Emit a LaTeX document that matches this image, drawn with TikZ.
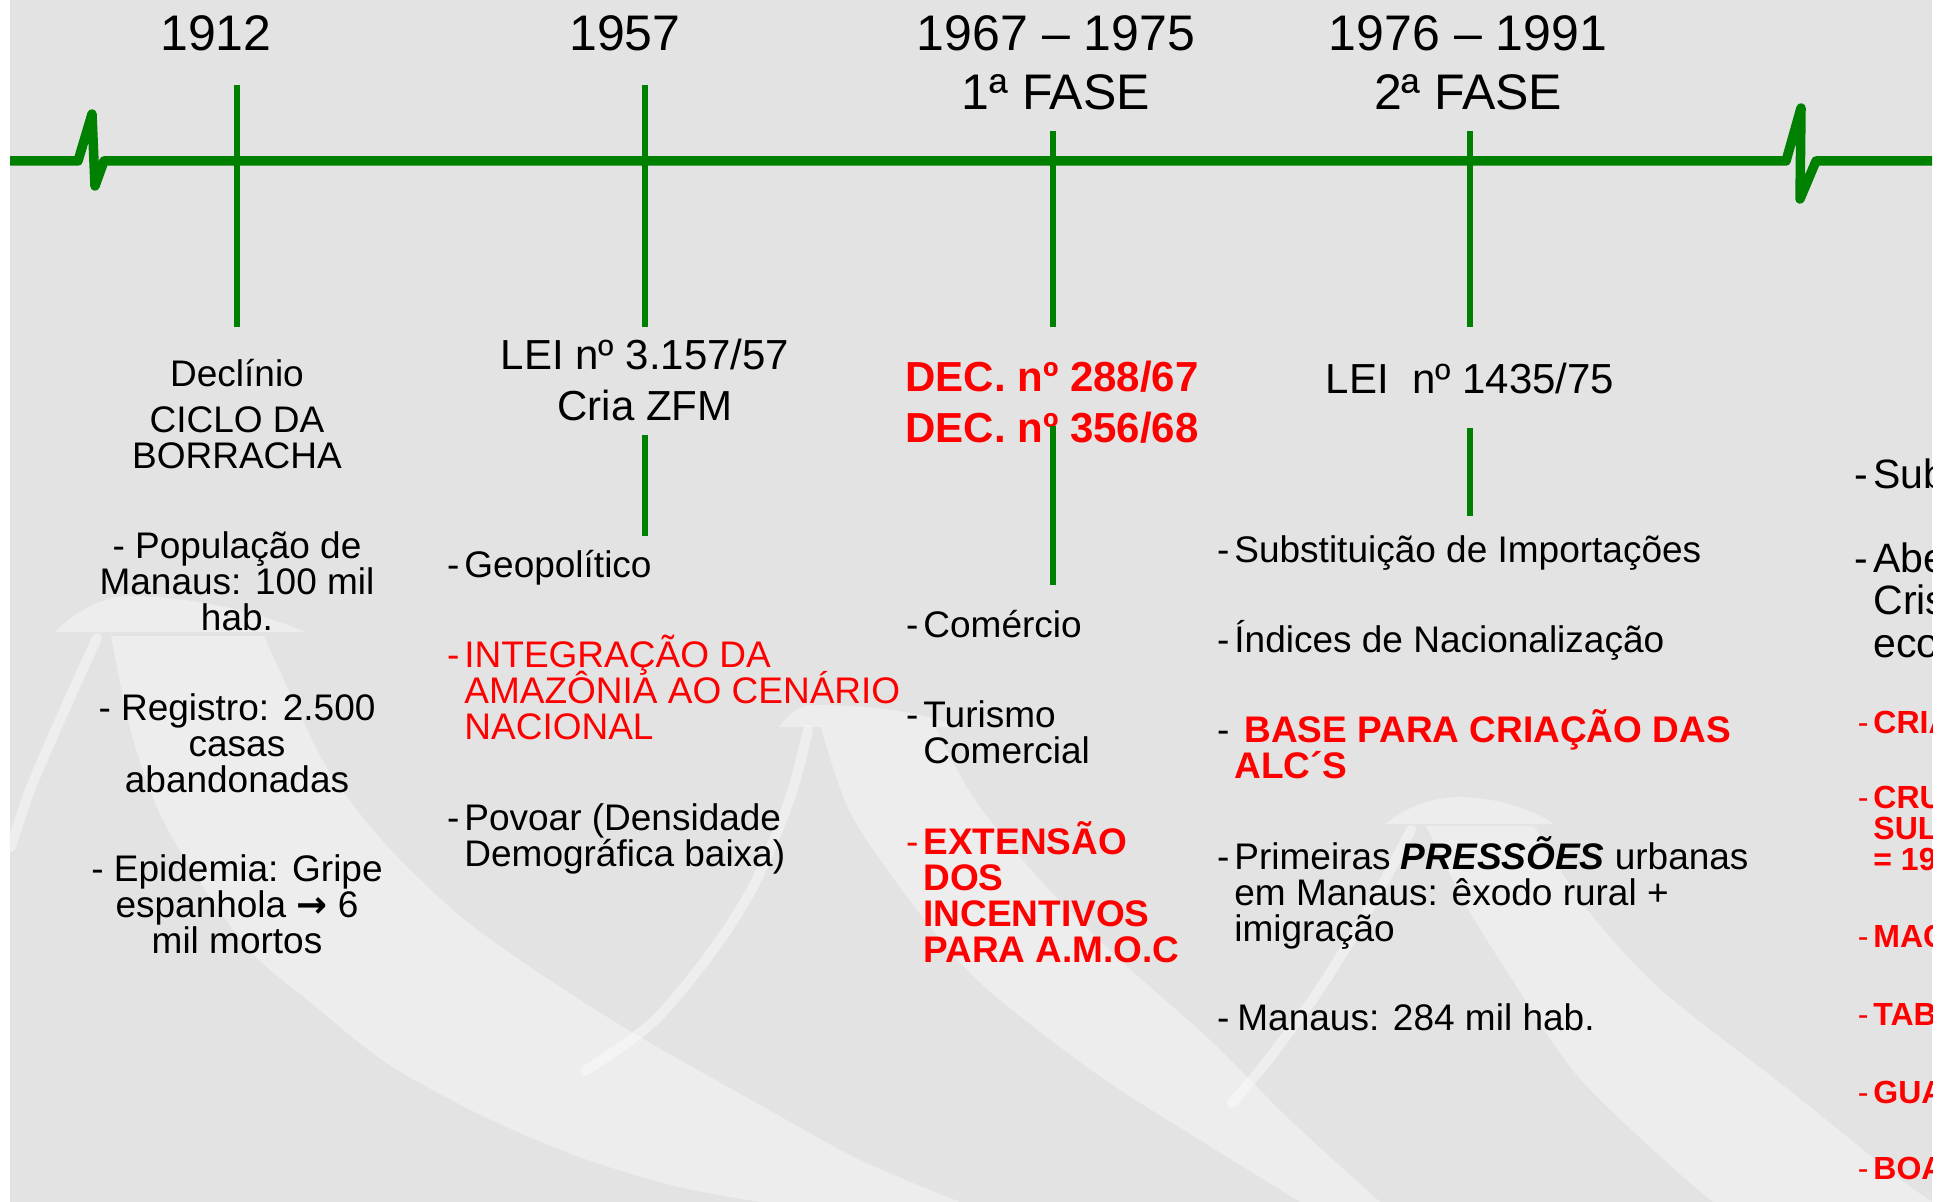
\documentclass[tikz,border=0pt]{standalone}
\usepackage{fontspec}
\setmainfont{Liberation Sans}
\newfontfamily\arrowfont{DejaVu Sans}
\definecolor{tlgreen}{RGB}{0,128,0}
\definecolor{tlred}{RGB}{255,0,0}
\definecolor{paper}{RGB}{227,227,227}
\newcommand\dsh{\llap{-\hspace{2.5pt}}}
\newcommand\dshm{\llap{\mdseries-\hspace{2.5pt}}}
\tikzset{
  hdr/.style={font=\fontsize{25}{29.5}\selectfont, align=center, anchor=base, inner sep=0pt},
  law/.style={font=\fontsize{21}{25.5}\selectfont, align=center, anchor=base, inner sep=0pt},
  lawred/.style={font=\bfseries\fontsize{21}{25.5}\selectfont, align=left, anchor=base west, inner sep=0pt, text=tlred},
  ctext/.style={font=\fontsize{18.5}{18}\selectfont, align=center, anchor=base, inner sep=0pt},
  ltext/.style={font=\fontsize{18.5}{18}\selectfont, align=left, anchor=base west, inner sep=0pt},
  lred/.style={ltext, text=tlred},
  lredb/.style={ltext, text=tlred, font=\bfseries\fontsize{18.5}{18}\selectfont},
  blk5/.style={font=\fontsize{20.5}{21.25}\selectfont, align=left, anchor=base west, inner sep=0pt},
  red5/.style={font=\bfseries\fontsize{16}{15.5}\selectfont, align=left, anchor=base west, inner sep=0pt, text=tlred},
  arrowfill/.style={fill=white, fill opacity=0.37},
  arrowline/.style={draw=white, draw opacity=0.4, line width=5pt, line cap=round},
  timeline/.style={draw=tlgreen, line width=4.75pt, line join=round},
  tick/.style={draw=tlgreen, line width=3pt}
}
\begin{document}
\lineskiplimit=-100pt\relax
\begin{tikzpicture}[x=0.5pt, y=-0.5pt]
\useasboundingbox (0,0) rectangle (1952,1202);
\fill[white] (0,0) rectangle (1952,1202);
\fill[paper] (10,0) rectangle (1932,1202);

\begin{scope}
\clip (10,0) rectangle (1932,1202);
% arrow A
\fill[arrowfill] (55,632) .. controls (75,612) and (100,598) .. (125,596) .. controls (190,596) and (260,612) .. (305,632) -- cycle;
\draw[arrowline] plot[smooth] coordinates {(97,638) (60,720) (30,790) (11,847)};
\fill[arrowfill] plot[smooth] coordinates {(111,636) (131,732) (160,814) (204,888) (252,953) (310,1002) (388,1064) (485,1117) (582,1158) (679,1187) (760,1202)}
  -- plot[smooth] coordinates {(960,1202) (860,1160) (760,1105) (630,1031) (533,969) (460,916) (388,847) (330,773) (291,695) (264,636)} -- cycle;
% arrow B
\fill[arrowfill] (779,727) .. controls (790,712) and (800,706) .. (812,705) .. controls (870,705) and (925,712) .. (958,727) -- cycle;
\draw[arrowline] plot[smooth] coordinates {(808,730) (790,798) (754,885) (710,954) (652,1023) (585,1071)};
\fill[arrowfill] plot[smooth] coordinates {(821,727) (852,816) (924,919) (986,988) (1098,1075) (1200,1140) (1300,1202)}
  -- plot[smooth] coordinates {(1380,1202) (1290,1120) (1210,1040) (1120,960) (1040,880) (975,800) (935,727)} -- cycle;
% arrow C
\fill[arrowfill] (1385,824) .. controls (1405,808) and (1430,798) .. (1457,797) .. controls (1495,797) and (1530,808) .. (1554,824) -- cycle;
\draw[arrowline] plot[smooth] coordinates {(1411,830) (1370,907) (1319,990) (1268,1060) (1232,1103)};
\fill[arrowfill] plot[smooth] coordinates {(1426,826) (1467,907) (1508,973) (1575,1073) (1661,1157) (1713,1202)}
  -- plot[smooth] coordinates {(1932,1202) (1892,1173) (1789,1090) (1661,990) (1585,907) (1534,826)} -- cycle;

% column 5 (cut at the right edge); multi-line nodes are anchored at their last line
\node[blk5] (c5sub) at (1873,489) {\dsh Sub};
\node[blk5] (c5abe) at (1873,657) {\dsh Abe\\Cris\\eco};
\node[red5] (c5cria) at (1873,733) {\dshm CRIA};
\node[red5] (c5cru) at (1873,870) {\dshm CRU\\SUL\\= 19};
\node[red5] (c5mac) at (1873,947) {\dshm MAC};
\node[red5] (c5tab) at (1873,1025) {\dshm TAB};
\node[red5] (c5gua) at (1873,1103) {\dshm GUA};
\node[red5] (c5boa) at (1873,1179) {\dshm BOA};
\end{scope}

% headers
\node[hdr] (y1912) at (216,51) {1912};
\node[hdr] (y1957) at (625,51) {1957};
\node[hdr] (y1967) at (1056,110) {1967 – 1975\\1ª FASE};
\node[hdr] (y1976) at (1468,110) {1976 – 1991\\2ª FASE};

% column 1
\node[ctext] (c1dec) at (237,387) {Declínio};
\node[ctext] (c1ciclo) at (237,469) {CICLO DA\\BORRACHA};
\node[ctext] (c1pop) at (237,631) {- População de\\Manaus: 100 mil\\hab.};
\node[ctext] (c1reg) at (237,792) {- Registro: 2.500\\casas\\abandonadas};
\node[ctext] (c1epi) at (237,953) {- Epidemia: Gripe\\espanhola {\arrowfont\bfseries →} 6\\mil mortos};

% column 2
\node[law] (lei57) at (645,421) {LEI nº 3.157/57\\Cria ZFM};
\node[ltext] (geo) at (464,578) {\dsh Geopolítico};
\node[lred] (integ) at (464,739) {\dsh INTEGRAÇÃO DA\\AMAZÔNIA AO CENÁRIO\\NACIONAL};
\node[ltext] (povoar) at (464,866) {\dsh Povoar (Densidade\\Demográfica baixa)};

% column 3
\node[lawred] (dec) at (905,443) {DEC. nº 288/67\\DEC. nº 356/68};
\node[ltext] (comercio) at (923,637) {\dsh Comércio};
\node[ltext] (turismo) at (923,763) {\dsh Turismo\\Comercial};
\node[lredb] (ext) at (923,962) {\dshm EXTENSÃO\\DOS\\INCENTIVOS\\PARA A.M.O.C};

% column 4
\node[law] (lei75) at (1470,394) {LEI\ \ nº 1435/75};
\node[ltext] (subst) at (1234,563) {\dsh Substituição de Importações};
\node[ltext] (indices) at (1234,652) {\dsh Índices de Nacionalização};
\node[lredb] (base) at (1234,778) {\llap{\color{black}\mdseries-\hspace{2.5pt}}\hspace{5pt}BASE PARA CRIAÇÃO DAS\\ALC´S};
\node[ltext] (press) at (1234,941) {\dsh Primeiras \textbf{\textit{PRESSÕES}} urbanas\\em Manaus: êxodo rural +\\imigração};
\node[ltext] (manaus) at (1237,1030) {\llap{-\hspace{4pt}}Manaus: 284 mil hab.};

% timeline
\coordinate (tlL) at (10,161);
\coordinate (tlR) at (1932,161);
\draw[timeline] (tlL) -- (78,161) -- (92,114) -- (95,186) -- (104,161) -- (1786,161) -- (1801,108) -- (1800,199) -- (1816,161) -- (tlR);

% ticks
\coordinate (t1a) at (237,85);  \coordinate (t1b) at (237,327);
\coordinate (t2a) at (645,85);  \coordinate (t2b) at (645,327);
\coordinate (t2c) at (645,435); \coordinate (t2d) at (645,536);
\coordinate (t3a) at (1053,131); \coordinate (t3b) at (1053,327);
\coordinate (t3c) at (1053,426); \coordinate (t3d) at (1053,585);
\coordinate (t4a) at (1470,131); \coordinate (t4b) at (1470,327);
\coordinate (t4c) at (1470,428); \coordinate (t4d) at (1470,516);
\draw[tick] (t1a) -- (t1b);
\draw[tick] (t2a) -- (t2b);
\draw[tick] (t2c) -- (t2d);
\draw[tick] (t3a) -- (t3b);
\draw[tick] (t3c) -- (t3d);
\draw[tick] (t4a) -- (t4b);
\draw[tick] (t4c) -- (t4d);
\end{tikzpicture}
\end{document}
